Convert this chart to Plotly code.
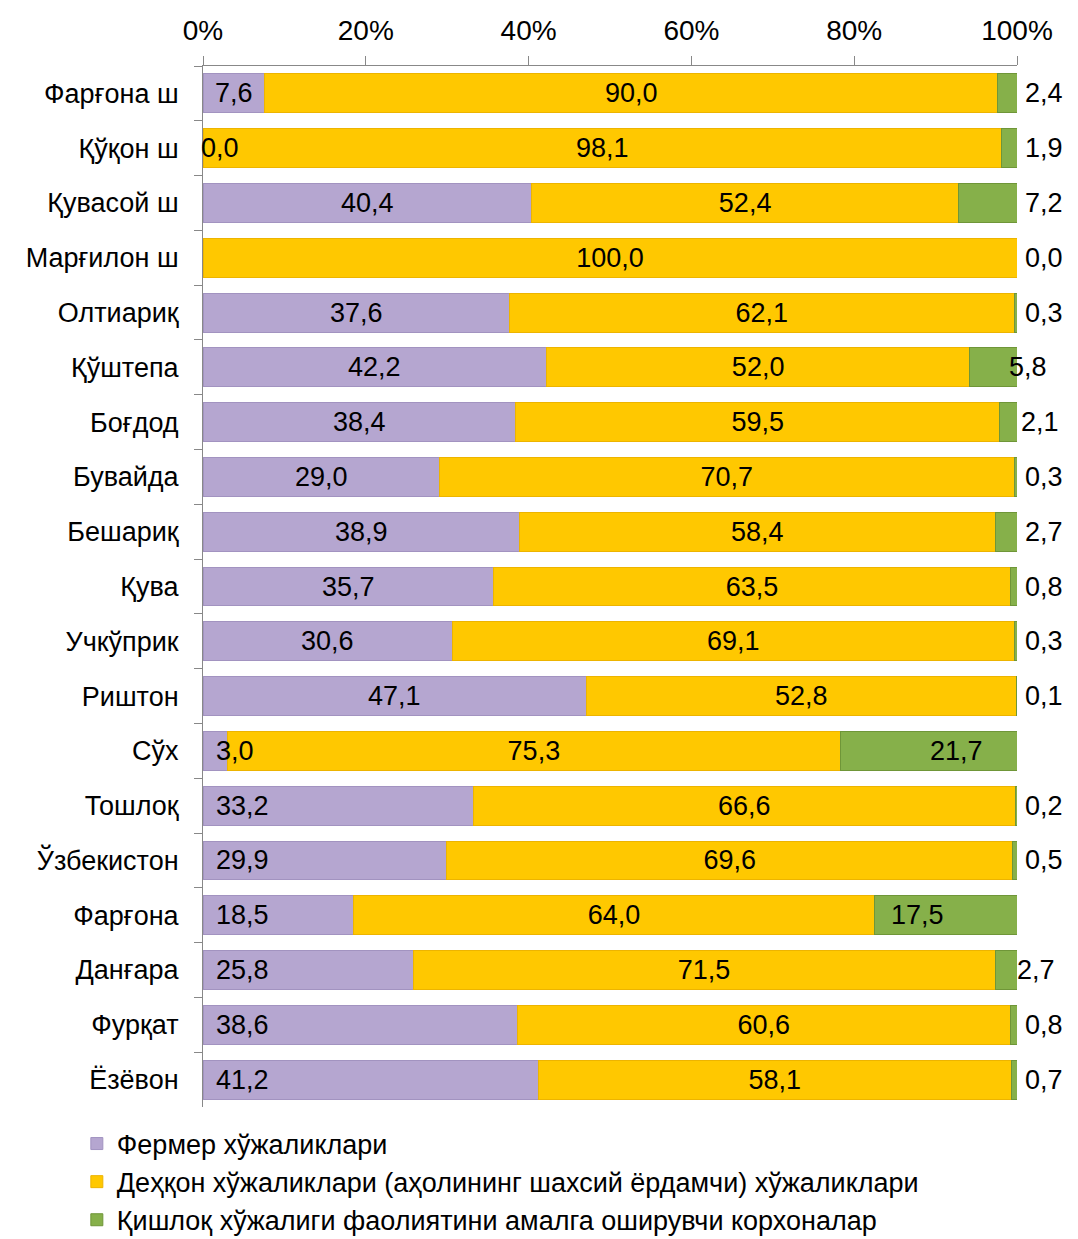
import plotly.graph_objects as go

categories = ["Фарғона ш", "Қўқон ш", "Қувасой ш", "Марғилон ш", "Олтиариқ", "Қўштепа",
              "Боғдод", "Бувайда", "Бешариқ", "Қува", "Учкўприк", "Риштон", "Сўх",
              "Тошлоқ", "Ўзбекистон", "Фарғона", "Данғара", "Фурқат", "Ёзёвон"]
fermer = [7.6, 0.0, 40.4, 0.0, 37.6, 42.2, 38.4, 29.0, 38.9, 35.7, 30.6, 47.1, 3.0,
          33.2, 29.9, 18.5, 25.8, 38.6, 41.2]
dehqon = [90.0, 98.1, 52.4, 100.0, 62.1, 52.0, 59.5, 70.7, 58.4, 63.5, 69.1, 52.8, 75.3,
          66.6, 69.6, 64.0, 71.5, 60.6, 58.1]
korxona = [2.4, 1.9, 7.2, 0.0, 0.3, 5.8, 2.1, 0.3, 2.7, 0.8, 0.3, 0.1, 21.7,
           0.2, 0.5, 17.5, 2.7, 0.8, 0.7]
series_names = ["Фермер хўжаликлари",
                "Деҳқон хўжаликлари (аҳолининг шахсий ёрдамчи) хўжаликлари",
                "Қишлоқ хўжалиги фаолиятини амалга оширувчи корхоналар"]
tick_vals = [0, 20, 40, 60, 80, 100]
tick_text = ["0%", "20%", "40%", "60%", "80%", "100%"]

# label styles (not data)
fermer_mode = ["c", "l0", "c", "none", "c", "c", "c", "c", "c", "c", "c", "c", "l",
               "l", "l", "l", "l", "l", "l"]
korxona_mode = ["o", "o", "o", "o", "o", "o", "o", "o", "o", "o", "o", "o", "i",
                "o", "o", "i", "o", "o", "o"]
korxona_shift = [0, 0, 0, 0, 0, -16, -4, 0, 0, 0, 0, 0, 28, 0, 0, -28, -8, 0, 0]

colors = ["#B5A6D0", "#FFC800", "#86B04A"]
borders = ["#A293C0", "#EDB400", "#6F9638"]
font = "Liberation Sans, Arial, sans-serif"
FS = 27

def fmt(v):
    return f"{v:.1f}".replace(".", ",")

fig = go.Figure()
fig.add_trace(go.Bar(y=categories, x=fermer, orientation="h", name=series_names[0],
                     marker=dict(color=colors[0], line=dict(color=borders[0], width=1))))
fig.add_trace(go.Bar(y=categories, x=dehqon, orientation="h", name=series_names[1],
                     marker=dict(color=colors[1], line=dict(color=borders[1], width=1)),
                     text=[fmt(v) for v in dehqon], textposition="inside",
                     insidetextanchor="middle", constraintext="none",
                     textfont=dict(size=FS, color="black", family=font)))
fig.add_trace(go.Bar(y=categories, x=korxona, orientation="h", name=series_names[2],
                     marker=dict(color=colors[2], line=dict(color=borders[2], width=1))))

ann = []
for i, c in enumerate(categories):
    f = fermer[i]
    m = fermer_mode[i]
    if m == "c":
        ann.append(dict(x=f / 2, y=c, text=fmt(f), xanchor="center", showarrow=False))
    elif m == "l":
        ann.append(dict(x=1.3, y=c, text=fmt(f), xanchor="left", showarrow=False))
    elif m == "l0":
        ann.append(dict(x=0, y=c, text=fmt(f), xanchor="left", showarrow=False, xshift=-4))
    k = korxona[i]
    start = f + dehqon[i]
    end = min(round(start + k, 6), 100)
    if korxona_mode[i] == "o":
        ann.append(dict(x=end, y=c, text=fmt(k), xanchor="left", showarrow=False,
                        xshift=6 + korxona_shift[i]))
    else:
        ann.append(dict(x=min(start + k / 2, 100), y=c, text=fmt(k), xanchor="center",
                        showarrow=False, xshift=korxona_shift[i]))
for a in ann:
    a["xref"] = "x"
    a["yref"] = "y"
    a["font"] = dict(size=FS, color="black", family=font)

fig.update_layout(
    barmode="stack",
    bargap=0.29,
    width=1070, height=1231,
    margin=dict(l=195, r=61, t=58, b=132, autoexpand=False),
    paper_bgcolor="white", plot_bgcolor="white",
    font=dict(family=font, size=FS, color="black"),
    annotations=ann,
    legend=dict(orientation="v", x=-0.155, y=-0.012, xanchor="left", yanchor="top",
                font=dict(size=27, family=font, color="black"),
                traceorder="normal", itemwidth=30, tracegroupgap=0),
    showlegend=True,
)
fig.update_xaxes(side="top", range=[0, 100], tickvals=tick_vals, ticktext=tick_text,
                 showgrid=False, showline=True, linecolor="#888888", linewidth=1,
                 ticks="outside", ticklen=9, tickcolor="#888888", automargin=False,
                 tickfont=dict(size=28, family=font), ticklabelstandoff=5, zeroline=False)
fig.update_yaxes(autorange="reversed", showgrid=False, showline=True, linecolor="#888888",
                 linewidth=1, ticks="outside", ticklen=8, tickcolor="#888888",
                 tickson="boundaries", tickfont=dict(size=FS, family=font),
                 ticklabelstandoff=18, automargin=False)

fig.write_html("out.html")
